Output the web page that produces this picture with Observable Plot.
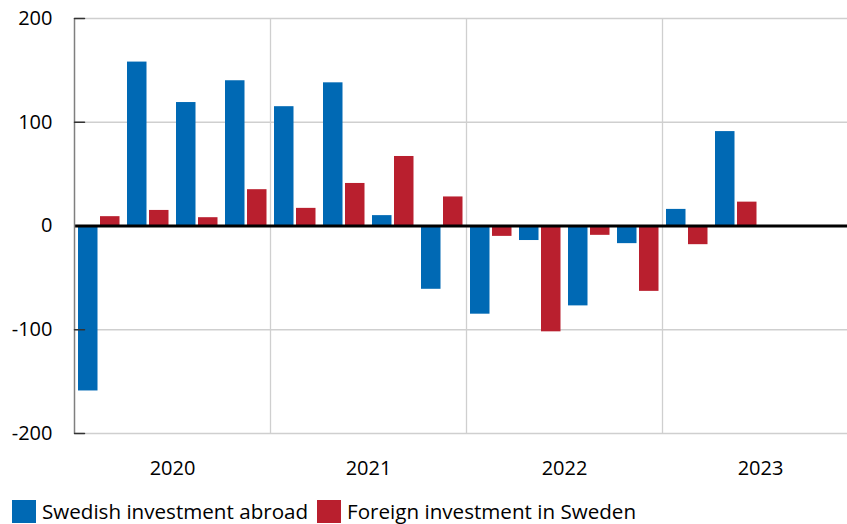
<!DOCTYPE html>
<html>
<head>
<meta charset="utf-8">
<script src="https://cdn.jsdelivr.net/npm/d3@7"></script>
<script src="https://cdn.jsdelivr.net/npm/@observablehq/plot@0.6"></script>
<style>
  html, body { margin: 0; padding: 0; background: #fff; overflow: hidden; }
  body { width: 847px; height: 524px; font-family: "Open Sans", sans-serif; }
  #chart { width: 847px; height: 480px; overflow: hidden; }
  #chart svg { max-width: none !important; display: block; }
  #legend { display: flex; align-items: center; height: 23px; margin: 20px 0 0 12px; font-size: 20.6px; line-height: 23px; color: #000; white-space: nowrap; }
  .sw { width: 24px; height: 23px; display: inline-block; margin-right: 6px; }
  .item { display: flex; align-items: center; margin-right: 9px; height: 23px; }
</style>
</head>
<body>
<div id="chart"></div>
<div id="legend"></div>
<script>
const years = [2020, 2021, 2022, 2023];
const quarters = ["Q1", "Q2", "Q3", "Q4"];
const seriesNames = ["Swedish investment abroad", "Foreign investment in Sweden"];
const seriesColors = ["#0069b4", "#b91f2e"];
// quarterly values, 2020 Q1 ... 2023 Q2
const swedishAbroad = [-159, 158, 119, 140, 115, 138, 10, -61, -85, -14, -77, -17, 16, 91];
const foreignInSweden = [9, 15, 8, 35, 17, 41, 67, 28, -10, -102, -9, -63, -18, 23];
const yTicks = [-200, -100, 0, 100, 200];

const rows = [];
swedishAbroad.forEach((v, i) => {
  const year = years[Math.floor(i / 4)];
  const q = i % 4;
  const t = year + q / 4;
  rows.push({series: seriesNames[0], t1: t, t2: t + 0.25, value: v});
  rows.push({series: seriesNames[1], t1: t, t2: t + 0.25, value: foreignInSweden[i]});
});

const tickShape = {
  draw(context, l) { context.moveTo(0, 0); context.lineTo(0, -l); }
};

const chart = Plot.plot({
  width: 858,
  height: 480,
  marginLeft: 74,
  marginRight: 0,
  marginTop: 18,
  marginBottom: 47,
  style: {fontFamily: "Open Sans, sans-serif", fontSize: "20px", color: "#000", background: "#fff", maxWidth: "none"},
  x: {domain: [2020, 2024], label: null},
  y: {domain: [-200, 200], label: null},
  color: {domain: seriesNames, range: seriesColors},
  marks: [
    Plot.ruleY(yTicks.filter(d => d !== 0), {stroke: "#cfcfcf", strokeWidth: 1.3}),
    Plot.ruleX(years.slice(1), {stroke: "#cfcfcf", strokeWidth: 1.3}),
    Plot.rectY(rows.filter(d => d.series === seriesNames[0]), {x1: "t1", x2: "t2", y: "value", fill: "series", insetLeft: 4, insetRight: 25.5}),
    Plot.rectY(rows.filter(d => d.series === seriesNames[1]), {x1: "t1", x2: "t2", y: "value", fill: "series", insetLeft: 26, insetRight: 3.5}),
    Plot.ruleY([0], {stroke: "#000", strokeWidth: 3.2}),
    Plot.ruleX([2020], {stroke: "#7f7f7f", strokeWidth: 1.5}),
    Plot.vector(yTicks.filter(d => d !== 0), {x: 2020, y: d => d, length: 10, rotate: 90, anchor: "start", shape: tickShape, stroke: "#333", strokeWidth: 1.5}),
    Plot.axisY({ticks: yTicks, tickFormat: d => String(d), tickSize: 0, tickPadding: 22, fontSize: 20, label: null}),
    Plot.axisX({ticks: years.map(y => y + 0.5), tickFormat: d => String(Math.floor(d)), tickSize: 0, tickPadding: 27, fontSize: 20, label: null})
  ]
});
document.getElementById("chart").appendChild(chart);

const legend = document.getElementById("legend");
seriesNames.forEach((name, i) => {
  const item = document.createElement("span");
  item.className = "item";
  const sw = document.createElement("span");
  sw.className = "sw";
  sw.style.background = seriesColors[i];
  item.appendChild(sw);
  item.appendChild(document.createTextNode(name));
  legend.appendChild(item);
});
</script>
</body>
</html>
